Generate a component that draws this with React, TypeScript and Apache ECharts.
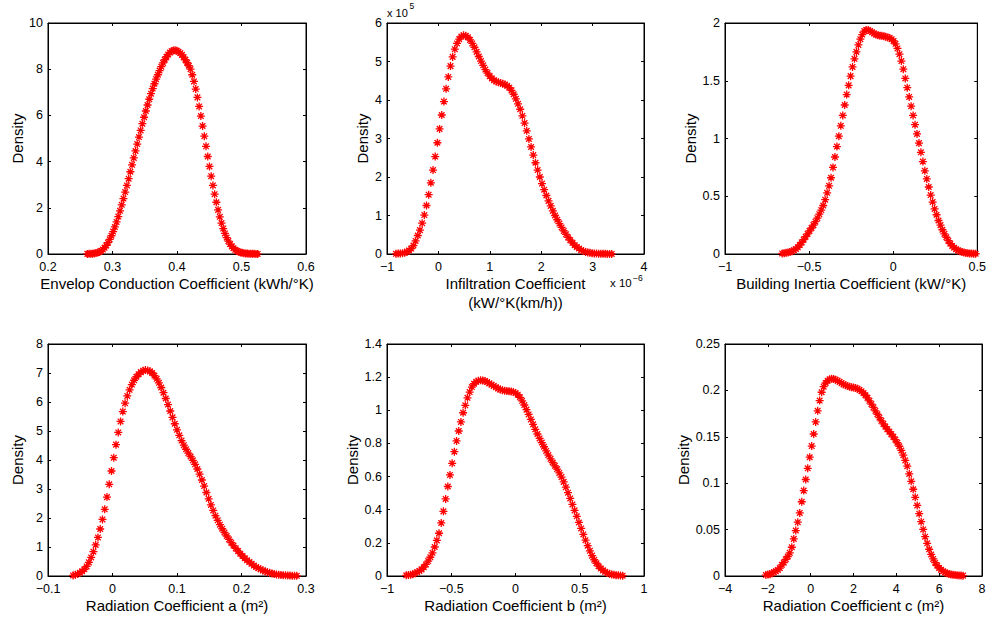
import React, { useEffect, useRef } from "react";
import * as echarts from "echarts";

const FONT = 'Helvetica, Arial, "Liberation Sans", sans-serif';

// ---------- data (kernel density estimates, 100 evaluation points each) ----------
// evaluation range [first x, last x] of each density curve
const envelopRange = [0.261, 0.525];
const envelopDensity = [
  0.005, 0.007, 0.01, 0.015, 0.025, 0.04, 0.06, 0.09, 0.13, 0.19,
  0.27, 0.37, 0.49, 0.63, 0.79, 0.97, 1.17, 1.39, 1.62, 1.87,
  2.13, 2.4, 2.68, 2.97, 3.26, 3.56, 3.86, 4.16, 4.46, 4.76,
  5.06, 5.35, 5.64, 5.92, 6.19, 6.45, 6.7, 6.94, 7.16, 7.37,
  7.57, 7.76, 7.94, 8.11, 8.27, 8.41, 8.54, 8.64, 8.72, 8.78,
  8.81, 8.82, 8.8, 8.76, 8.7, 8.62, 8.52, 8.41, 8.28, 8.15,
  8.0, 7.76, 7.47, 7.14, 6.78, 6.39, 5.97, 5.54, 5.1, 4.66,
  4.22, 3.79, 3.37, 2.97, 2.59, 2.24, 1.91, 1.61, 1.34, 1.1,
  0.89, 0.71, 0.56, 0.43, 0.33, 0.25, 0.18, 0.13, 0.095, 0.07,
  0.05, 0.037, 0.027, 0.02, 0.015, 0.011, 0.008, 0.006, 0.005, 0.004,
];

// x in units of 1e-6, density in units of 1e5
const infiltrationRange = [-0.825, 3.372];
const infiltrationDensity = [
  0.005, 0.01, 0.015, 0.02, 0.035, 0.06, 0.09, 0.14, 0.22, 0.34,
  0.48, 0.62, 0.8, 1.01, 1.26, 1.54, 1.85, 2.18, 2.53, 2.89,
  3.25, 3.61, 3.96, 4.29, 4.6, 4.88, 5.12, 5.32, 5.47, 5.58,
  5.65, 5.68, 5.67, 5.63, 5.56, 5.47, 5.37, 5.25, 5.13, 5.01,
  4.9, 4.79, 4.7, 4.62, 4.56, 4.51, 4.48, 4.46, 4.44, 4.42,
  4.4, 4.37, 4.32, 4.25, 4.15, 4.03, 3.9, 3.76, 3.59, 3.4,
  3.2, 2.99, 2.78, 2.57, 2.37, 2.18, 2.0, 1.83, 1.67, 1.52,
  1.38, 1.25, 1.12, 1.0, 0.89, 0.79, 0.69, 0.6, 0.51, 0.43,
  0.36, 0.29, 0.23, 0.18, 0.14, 0.1, 0.075, 0.055, 0.04, 0.03,
  0.02, 0.015, 0.01, 0.008, 0.006, 0.005, 0.004, 0.003, 0.003, 0.002,
];
const infiltrationXExp = "\u22126";
const infiltrationYExp = "5";

const inertiaRange = [-0.66, 0.49];
const inertiaDensity = [
  0.005, 0.007, 0.01, 0.013, 0.018, 0.024, 0.032, 0.043, 0.058, 0.078,
  0.1, 0.125, 0.15, 0.175, 0.2, 0.225, 0.25, 0.28, 0.31, 0.345,
  0.38, 0.42, 0.47, 0.53, 0.59, 0.66, 0.75, 0.84, 0.93, 1.02,
  1.11, 1.2, 1.29, 1.38, 1.46, 1.54, 1.62, 1.69, 1.75, 1.81,
  1.86, 1.9, 1.93, 1.94, 1.94, 1.93, 1.92, 1.91, 1.9, 1.895,
  1.89, 1.89, 1.885, 1.88, 1.875, 1.87, 1.86, 1.845, 1.82, 1.78,
  1.73, 1.67, 1.6, 1.52, 1.44, 1.36, 1.28, 1.2, 1.12, 1.04,
  0.96, 0.88, 0.8, 0.72, 0.65, 0.58, 0.51, 0.45, 0.39, 0.34,
  0.29, 0.25, 0.21, 0.175, 0.145, 0.115, 0.09, 0.07, 0.054, 0.041,
  0.031, 0.023, 0.017, 0.012, 0.009, 0.007, 0.005, 0.004, 0.003, 0.002,
];

const radARange = [-0.0611, 0.2857];
const radADensity = [
  0.02, 0.04, 0.07, 0.11, 0.16, 0.23, 0.33, 0.47, 0.64, 0.84,
  1.07, 1.33, 1.62, 1.95, 2.3, 2.72, 3.16, 3.62, 4.08, 4.53,
  4.95, 5.33, 5.67, 5.96, 6.21, 6.42, 6.6, 6.75, 6.87, 6.96,
  7.03, 7.08, 7.1, 7.09, 7.06, 7.0, 6.91, 6.8, 6.66, 6.5,
  6.32, 6.12, 5.91, 5.69, 5.47, 5.25, 5.04, 4.85, 4.67, 4.51,
  4.37, 4.24, 4.12, 3.99, 3.85, 3.69, 3.51, 3.31, 3.1, 2.88,
  2.66, 2.45, 2.26, 2.08, 1.92, 1.77, 1.63, 1.5, 1.38, 1.26,
  1.15, 1.05, 0.95, 0.86, 0.77, 0.69, 0.61, 0.54, 0.48, 0.42,
  0.36, 0.31, 0.27, 0.23, 0.19, 0.16, 0.13, 0.11, 0.09, 0.07,
  0.055, 0.045, 0.036, 0.029, 0.023, 0.018, 0.014, 0.011, 0.009, 0.007,
];

const radBRange = [-0.85, 0.834];
const radBDensity = [
  0.004, 0.006, 0.008, 0.011, 0.016, 0.022, 0.03, 0.04, 0.053, 0.07,
  0.09, 0.113, 0.14, 0.175, 0.215, 0.258, 0.32, 0.39, 0.465, 0.54,
  0.61, 0.68, 0.75, 0.815, 0.875, 0.93, 0.985, 1.03, 1.075, 1.11,
  1.14, 1.16, 1.172, 1.178, 1.181, 1.18, 1.176, 1.17, 1.162, 1.155,
  1.147, 1.139, 1.132, 1.126, 1.121, 1.118, 1.116, 1.115, 1.113, 1.11,
  1.104, 1.094, 1.078, 1.057, 1.032, 1.004, 0.975, 0.945, 0.915, 0.885,
  0.857, 0.83, 0.805, 0.78, 0.755, 0.73, 0.707, 0.685, 0.665, 0.645,
  0.622, 0.597, 0.568, 0.536, 0.503, 0.468, 0.432, 0.396, 0.36, 0.323,
  0.287, 0.251, 0.216, 0.183, 0.152, 0.123, 0.098, 0.077, 0.059, 0.045,
  0.034, 0.025, 0.018, 0.013, 0.009, 0.007, 0.005, 0.004, 0.003, 0.002,
];

const radCRange = [-2.09, 7.113];
const radCDensity = [
  0.001, 0.0015, 0.002, 0.003, 0.004, 0.005, 0.0065, 0.0085, 0.012, 0.0145,
  0.018, 0.021, 0.025, 0.031, 0.04, 0.049, 0.058, 0.068, 0.08, 0.092,
  0.104, 0.116, 0.128, 0.14, 0.153, 0.166, 0.178, 0.189, 0.198, 0.204,
  0.208, 0.2105, 0.212, 0.2125, 0.2122, 0.2115, 0.2105, 0.2092, 0.2078, 0.2065,
  0.2055, 0.2047, 0.204, 0.2035, 0.203, 0.2025, 0.2018, 0.2007, 0.1992, 0.1972,
  0.1948, 0.192, 0.1888, 0.1853, 0.1817, 0.178, 0.1743, 0.1707, 0.1672, 0.164,
  0.161, 0.1582, 0.1555, 0.1528, 0.15, 0.147, 0.1436, 0.1398, 0.1353, 0.1302,
  0.1245, 0.1183, 0.11, 0.102, 0.0935, 0.0848, 0.076, 0.0672, 0.0585, 0.0502,
  0.0424, 0.0352, 0.0288, 0.0232, 0.0184, 0.0144, 0.0112, 0.0086, 0.0066, 0.005,
  0.0038, 0.0029, 0.0022, 0.0017, 0.0013, 0.001, 0.0008, 0.0006, 0.0005, 0.0004,
];

// axis scales: [min, max, interval]
const xScales = [
  [0.2, 0.6, 0.1],
  [-1, 4, 1],
  [-1, 0.5, 0.5],
  [-0.1, 0.3, 0.1],
  [-1, 1, 0.5],
  [-4, 8, 2],
];
const yScales = [
  [0, 10, 2],
  [0, 6, 1],
  [0, 2, 0.5],
  [0, 8, 1],
  [0, 1.4, 0.2],
  [0, 0.25, 0.05],
];
const xLabels = [
  "Envelop Conduction Coefficient (kWh/\u00b0K)",
  "Infiltration Coefficient\n(kW/\u00b0K(km/h))",
  "Building Inertia Coefficient (kW/\u00b0K)",
  "Radiation Coefficient a (m\u00b2)",
  "Radiation Coefficient b (m\u00b2)",
  "Radiation Coefficient c (m\u00b2)",
];
const yLabel = "Density";

const ranges = [envelopRange, infiltrationRange, inertiaRange, radARange, radBRange, radCRange];
const densities = [envelopDensity, infiltrationDensity, inertiaDensity, radADensity, radBDensity, radCDensity];

// ---------- layout ----------
const colLeft = [48, 387, 725];
const colWidth = [258, 257, 257];
const rowTop = [23, 344];
const rowHeight = [231, 232];
const yNameGap = [23, 17, 27, 23, 27, 34];

const ASTERISK = "path://M10 0L10 20M0 10L20 10M3 3L17 17M3 17L17 3";

function evalGrid(range: number[], n: number) {
  // evenly spaced evaluation points of the density estimate
  const out: number[] = [];
  for (let i = 0; i < n; i++) out.push(range[0] + ((range[1] - range[0]) * i) / (n - 1));
  return out;
}

const fmt = (v: number) => String(Number(v.toFixed(6))).replace("-", "\u2212");

export default function App() {
  const ref = useRef<HTMLDivElement>(null);
  useEffect(() => {
    if (!ref.current) return;
    const chart = echarts.init(ref.current, undefined, { renderer: "svg" });
    const grids: any[] = [];
    const xAxes: any[] = [];
    const yAxes: any[] = [];
    const series: any[] = [];
    for (let k = 0; k < 6; k++) {
      const r = Math.floor(k / 3);
      const c = k % 3;
      grids.push({
        left: colLeft[c],
        top: rowTop[r],
        width: colWidth[c],
        height: rowHeight[r],
        show: true,
        borderColor: "#000",
        borderWidth: 1,
        backgroundColor: "#fff",
      });
      const [xmin, xmax, xint] = xScales[k];
      const [ymin, ymax, yint] = yScales[k];
      const common = {
        gridIndex: k,
        type: "value",
        splitLine: { show: false },
        axisLine: { show: true, onZero: false, lineStyle: { color: "#000", width: 1 } },
        axisTick: { show: true, inside: true, length: 3, lineStyle: { color: "#000", width: 1 } },
      };
      xAxes.push({
        ...common,
        position: "bottom",
        min: xmin,
        max: xmax,
        interval: xint,
        axisLabel: { color: "#000", fontSize: 12.5, fontFamily: FONT, margin: 6, formatter: fmt },
        name: xLabels[k],
        nameLocation: "middle",
        nameGap: 16,
        nameTextStyle: { color: "#000", fontSize: 15, fontFamily: FONT, lineHeight: 19 },
      });
      xAxes.push({
        ...common,
        position: "top",
        min: xmin,
        max: xmax,
        interval: xint,
        axisLabel: { show: false },
      });
      yAxes.push({
        ...common,
        position: "left",
        min: ymin,
        max: ymax,
        interval: yint,
        axisLabel: { color: "#000", fontSize: 12.5, fontFamily: FONT, margin: 5, formatter: fmt },
        name: yLabel,
        nameLocation: "middle",
        nameGap: yNameGap[k],
        nameTextStyle: { color: "#000", fontSize: 15, fontFamily: FONT },
      });
      yAxes.push({
        ...common,
        position: "right",
        min: ymin,
        max: ymax,
        interval: yint,
        axisLabel: { show: false },
      });
      const xs = evalGrid(ranges[k], densities[k].length);
      series.push({
        type: "scatter",
        xAxisIndex: 2 * k,
        yAxisIndex: 2 * k,
        symbol: ASTERISK,
        symbolSize: 8,
        itemStyle: { color: "#ff0000", borderColor: "#ff0000", borderWidth: 1.3, opacity: 1 },
        data: densities[k].map((y, i) => [xs[i], y]),
        silent: true,
      });
    }
    const expText = (text: string, x: number, y: number, size: number) => ({
      type: "text",
      left: x,
      top: y,
      style: { text, fill: "#000", font: `${size}px ${FONT}` },
    });
    chart.setOption({
      animation: false,
      backgroundColor: "#fff",
      grid: grids,
      xAxis: xAxes,
      yAxis: yAxes,
      series,
      graphic: [
        expText("x 10", 387, 7, 11),
        expText(infiltrationYExp, 409.5, 1, 8.5),
        expText("x 10", 610, 277, 11.5),
        expText(infiltrationXExp, 633, 273, 8.5),
      ],
    });
    return () => chart.dispose();
  }, []);
  return (
    <div
      ref={ref}
      style={{ position: "fixed", left: 0, top: 0, width: 989, height: 617, background: "#fff" }}
    />
  );
}
